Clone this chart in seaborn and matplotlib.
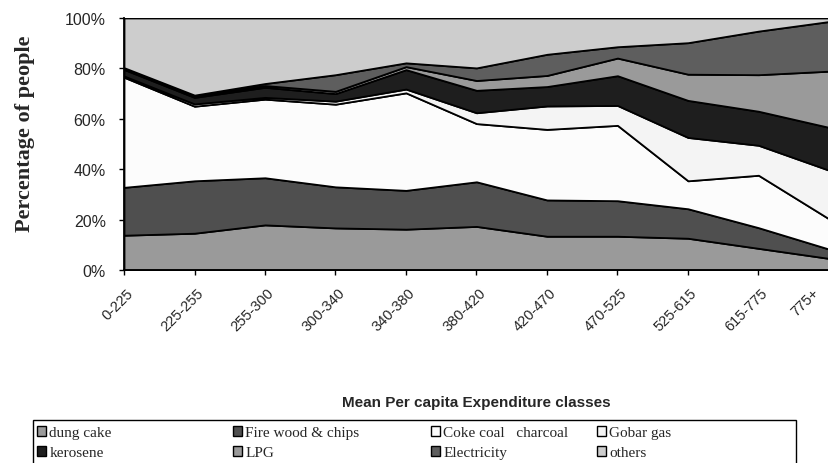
import numpy as np
import pandas as pd
import matplotlib
matplotlib.use("Agg")
import matplotlib.pyplot as plt
import matplotlib.transforms as mtransforms
import seaborn as sns
from matplotlib.patches import Patch, Rectangle

categories = ["0-225", "225-255", "255-300", "300-340", "340-380", "380-420",
              "420-470", "470-525", "525-615", "615-775", "775+"]
dung_cake = [13.8, 14.6, 17.9, 16.7, 16.2, 17.3, 13.4, 13.4, 12.6, 8.6, 4.6]
fire_wood = [19.0, 20.8, 18.7, 16.3, 15.4, 17.7, 14.4, 14.1, 11.7, 8.2, 3.7]
coke_coal = [43.7, 29.6, 31.2, 32.8, 38.7, 23.1, 28.0, 29.9, 11.1, 20.8, 12.0]
gobar_gas = [0.5, 0.9, 0.7, 1.2, 1.5, 4.3, 9.3, 7.9, 17.2, 11.9, 19.3]
kerosene = [2.6, 2.6, 4.0, 3.0, 7.7, 8.9, 7.7, 11.8, 14.7, 13.5, 17.0]
lpg = [0.4, 0.6, 0.7, 0.9, 1.2, 3.9, 4.4, 7.0, 10.4, 14.5, 22.3]
electricity = [0.3, 0.3, 0.8, 6.6, 1.5, 5.0, 8.4, 4.5, 12.5, 17.3, 19.7]
others = [19.7, 30.6, 26.0, 22.5, 17.8, 19.8, 14.4, 11.4, 9.8, 5.2, 1.4]

series_names = ["dung cake", "Fire wood & chips", "Coke coal   charcoal", "Gobar gas",
                "kerosene", "LPG", "Electricity", "others"]
colors = ["#9a9a9a", "#4f4f4f", "#fcfcfc", "#f4f4f4",
          "#1e1e1e", "#9a9a9a", "#5e5e5e", "#cdcdcd"]

df = pd.DataFrame({
    "category": categories,
    series_names[0]: dung_cake,
    series_names[1]: fire_wood,
    series_names[2]: coke_coal,
    series_names[3]: gobar_gas,
    series_names[4]: kerosene,
    series_names[5]: lpg,
    series_names[6]: electricity,
    series_names[7]: others,
})

sns.set_theme(style="white")
plt.rcParams["font.family"] = ["Liberation Sans", "DejaVu Sans"]
serif = ["Liberation Serif", "DejaVu Serif"]

W, H = 829, 464
fig = plt.figure(figsize=(W / 100, H / 100), dpi=100)
ax = fig.add_axes([124 / W, 1 - 271 / H, 705 / W, 252 / H])

x = np.arange(len(categories))
vals = df[series_names].to_numpy().T
totals = vals.sum(axis=0)
pct = vals / totals * 100
ax.stackplot(x, pct, colors=colors, edgecolor="black", linewidth=1.3)

ax.set_xlim(0, len(categories) - 1)
ax.set_ylim(0, 100)
ax.set_yticks([0, 20, 40, 60, 80, 100])
ax.set_yticklabels([f"{v}%" for v in [0, 20, 40, 60, 80, 100]], fontsize=11.5)
ax.set_xticks(x)
ax.set_xticklabels(categories, rotation=45, ha="right", va="center",
                   rotation_mode="anchor", fontsize=10.5)
ax.tick_params(axis="both", direction="out", length=3.6, width=1, color="black",
               bottom=True, left=True)
ax.tick_params(axis="x", pad=11)
ax.tick_params(axis="y", pad=9.5)
labels = ax.get_xticklabels()
for k, lab in enumerate(labels):
    dx = 0.07 if k < len(labels) - 1 else -0.12
    lab.set_transform(lab.get_transform()
                      + mtransforms.ScaledTranslation(dx, 0, fig.dpi_scale_trans))
for side in ["top", "right"]:
    ax.spines[side].set_visible(False)
for side in ["left", "bottom"]:
    ax.spines[side].set_color("black")
    ax.spines[side].set_linewidth(1.3)

ax.set_ylabel("Percentage of people", fontsize=16, fontweight="bold", family=serif)
ax.yaxis.set_label_coords((25 - 124) / 705, (271 - 133.5) / 252)
ax.yaxis.label.set_va("center")
ax.set_xlabel("Mean Per capita Expenditure classes", fontsize=11, fontweight="bold")
ax.xaxis.set_label_coords(0.5, (271 - 403) / 252)
ax.xaxis.label.set_va("center")

# legend: four columns placed like the reference, inside a single frame
col_x = [37, 233, 431, 597]
columns = [(0, 4), (1, 5), (2, 6), (3, 7)]
for cx, (i, j) in zip(col_x, columns):
    hs = [Patch(facecolor=colors[k], edgecolor="black", linewidth=1.0) for k in (i, j)]
    fig.legend(hs, [series_names[i], series_names[j]], loc="center left",
               bbox_to_anchor=(cx / W, 1 - 443.5 / H), ncol=1, frameon=False,
               prop={"family": serif, "size": 11},
               handlelength=0.6, handleheight=0.6, handletextpad=0.2,
               borderpad=0, labelspacing=0.45, borderaxespad=0)
fig.add_artist(Rectangle((33 / W, -0.05), (796 - 33) / W, 0.05 + (464 - 421) / H,
                         transform=fig.transFigure, fill=False,
                         edgecolor="black", linewidth=1.0))

fig.savefig("out.png", dpi=100)
